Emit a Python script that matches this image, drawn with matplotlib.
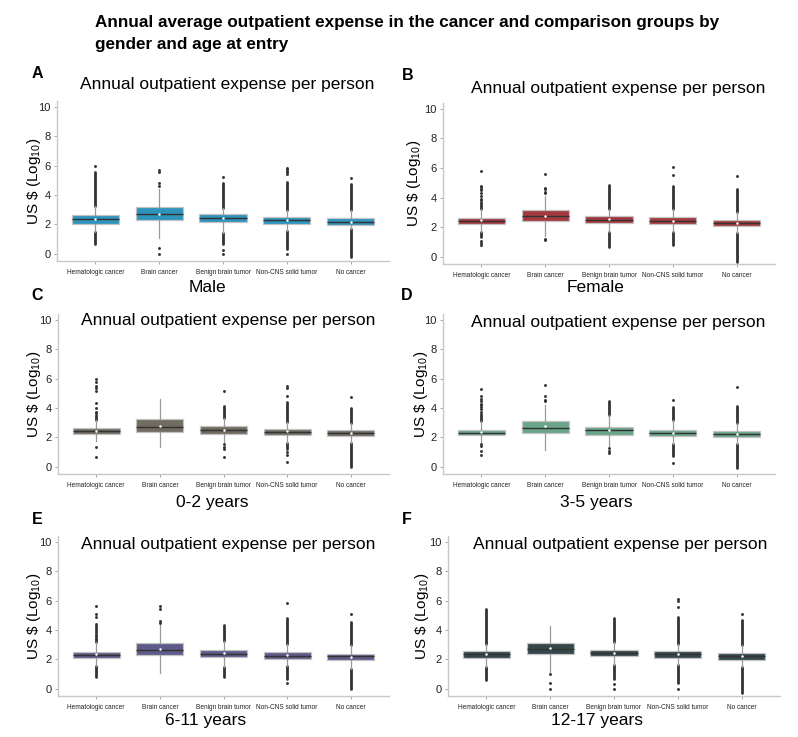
import matplotlib
matplotlib.use("Agg")
import matplotlib.pyplot as plt

plt.rcParams['font.family'] = ['Liberation Sans', 'DejaVu Sans']
plt.rcParams['mathtext.fontset'] = 'custom'
plt.rcParams['mathtext.rm'] = 'Liberation Sans'

# ---- data (log10 US $) ----
categories = ["Hematologic cancer", "Brain cancer", "Benign brain tumor",
              "Non-CNS solid tumor", "No cancer"]
panel_letters = ["A", "B", "C", "D", "E", "F"]
panel_groups = ["Male", "Female", "0-2 years", "3-5 years", "6-11 years", "12-17 years"]
panel_colors = ["#2e93bd", "#a33a40", "#716c62", "#6aa58a", "#5e5b8a", "#35474b"]

q1 = [[2.05, 2.28, 2.14, 2.05, 1.94],
      [2.19, 2.40, 2.26, 2.19, 2.08],
      [2.20, 2.34, 2.23, 2.16, 2.09],
      [2.13, 2.31, 2.15, 2.08, 2.04],
      [2.09, 2.27, 2.14, 2.02, 1.93],
      [2.11, 2.34, 2.20, 2.11, 1.98]]
medians = [[2.33, 2.71, 2.42, 2.30, 2.19],
           [2.42, 2.74, 2.51, 2.42, 2.28],
           [2.43, 2.70, 2.50, 2.39, 2.32],
           [2.31, 2.65, 2.47, 2.26, 2.24],
           [2.32, 2.66, 2.39, 2.25, 2.20],
           [2.34, 2.73, 2.43, 2.34, 2.23]]
q3 = [[2.60, 3.18, 2.71, 2.53, 2.44],
      [2.62, 3.17, 2.76, 2.65, 2.49],
      [2.61, 3.25, 2.80, 2.55, 2.50],
      [2.53, 3.14, 2.71, 2.47, 2.40],
      [2.50, 3.11, 2.61, 2.50, 2.39],
      [2.57, 3.14, 2.66, 2.57, 2.43]]
means = [[2.36, 2.73, 2.44, 2.31, 2.17],
         [2.45, 2.78, 2.52, 2.44, 2.30],
         [2.45, 2.77, 2.53, 2.41, 2.30],
         [2.33, 2.74, 2.49, 2.28, 2.22],
         [2.34, 2.73, 2.41, 2.27, 2.18],
         [2.36, 2.77, 2.45, 2.36, 2.25]]
whisker_lo = [[1.47, 1.08, 1.42, 1.53, 1.65],
              [1.67, 1.40, 1.65, 1.67, 1.58],
              [1.75, 1.32, 1.70, 1.60, 1.60],
              [1.65, 1.11, 1.40, 1.52, 1.56],
              [1.52, 1.07, 1.48, 1.52, 1.36],
              [1.48, 1.14, 1.59, 1.59, 1.48]]
whisker_hi = [[3.25, 4.40, 3.10, 3.00, 3.00],
              [3.20, 4.10, 3.20, 3.20, 3.00],
              [3.20, 4.59, 3.30, 3.07, 2.95],
              [3.10, 4.23, 3.55, 3.21, 2.99],
              [3.18, 4.32, 3.25, 3.07, 2.95],
              [3.07, 4.25, 3.18, 3.07, 2.95]]
# dense runs of outliers (low, high); None where the points are sparse
upper_runs = [[(3.25, 5.55), None, (3.10, 4.80), (3.00, 4.90), (3.00, 4.75)],
              [(3.20, 3.70), None, (3.20, 4.84), (3.20, 4.75), (3.00, 4.57)],
              [(3.20, 3.50), None, (3.30, 4.14), (3.07, 4.43), (2.95, 4.02)],
              [(3.10, 3.60), None, (3.55, 4.46), (3.21, 4.05), (2.99, 4.16)],
              [(3.18, 3.75), None, (3.25, 4.32), (3.07, 4.84), (2.95, 4.55)],
              [(3.07, 5.45), None, (3.18, 4.84), (3.07, 4.89), (2.95, 4.70)]]
lower_runs = [[(0.63, 1.47), None, (0.63, 1.42), (0.30, 1.53), (-0.20, 1.65)],
              [(1.36, 1.67), None, (0.65, 1.65), (0.80, 1.67), (-0.36, 1.58)],
              [None, None, None, (1.18, 1.60), (0.00, 1.60)],
              [None, None, None, (0.72, 1.52), (-0.07, 1.56)],
              [(0.80, 1.52), None, (0.80, 1.48), (0.68, 1.52), (-0.05, 1.36)],
              [(0.57, 1.48), None, (0.68, 1.59), (0.39, 1.59), (-0.30, 1.48)]]
# single outlying points
fliers = [[[6.0], [4.6, 4.8, 5.55, 5.67, 0.41, 0.0], [5.2, 0.25, 0.0],
           [5.45, 5.55, 5.65, 5.75, 5.85, 0.0], [5.15]],
          [[5.81, 4.8, 4.7, 4.6, 4.5, 4.3, 4.1, 3.9, 3.8, 1.06, 0.9, 0.77],
           [4.3, 4.4, 4.55, 4.65, 5.59, 1.18, 1.1], [], [6.1, 5.52], [5.43]],
          [[5.98, 5.8, 5.5, 5.34, 5.18, 4.32, 3.98, 3.75, 3.64, 1.36, 0.68],
           [], [5.18, 1.55, 1.36, 1.18, 0.64], [5.5, 5.34, 4.82, 1.02, 0.8, 0.34], [4.73]],
          [[5.32, 4.8, 4.6, 4.45, 4.3, 4.2, 4.05, 3.9, 3.75, 1.52, 1.4, 1.06, 0.77],
           [5.59, 4.84, 4.57, 4.46], [1.29, 1.06, 0.9], [4.57, 0.27], [5.43]],
          [[5.61, 5.07, 4.89, 4.43, 4.3, 4.15, 4.0, 3.86],
           [5.61, 5.45, 4.61, 4.48], [], [5.84, 0.39], [5.11]],
          [[], [1.02, 0.39, -0.05], [0.3, -0.05], [6.14, 5.98, 5.57, -0.05], [5.11]]]

# ---- layout (pixels of the 798x737 figure) ----
W, H = 798, 737
axes_px = [(57, 101, 389, 261), (443, 103, 775, 264),
           (58, 314, 389, 474), (443, 314, 775, 474),
           (58, 536, 389, 696), (448, 536, 780, 696)]
title_px = [(227, 85), (618, 88), (228, 321), (618, 323), (228, 545), (620, 545)]
xlabel_px = [(207, 288), (596, 288), (212, 502), (596, 502), (206, 721), (597, 721)]
letter_px = [(37, 74), (408, 75), (37, 296), (407, 296), (37, 520), (407, 520)]
ylabel_edge_px = [43, 423, 43, 430, 43, 431]

fig = plt.figure(figsize=(W / 100, H / 100), dpi=100)
fig.text(95 / W, 1 - 15 / H,
         "Annual average outpatient expense in the cancer and comparison groups by\n"
         "gender and age at entry",
         fontsize=12.3, fontweight="bold", ha="left", va="top", linespacing=1.6)

dark = "#333333"
for p in range(6):
    l, t, r, b = axes_px[p]
    ax = fig.add_axes([l / W, 1 - b / H, (r - l) / W, (b - t) / H])
    stats = []
    for i, cat in enumerate(categories):
        stats.append(dict(label=cat, q1=q1[p][i], med=medians[p][i], q3=q3[p][i],
                          mean=means[p][i], whislo=whisker_lo[p][i],
                          whishi=whisker_hi[p][i], fliers=[]))
    pos = list(range(len(categories)))
    ax.bxp(stats, positions=pos, widths=0.74, patch_artist=True,
           showmeans=True, showcaps=False, showfliers=False,
           boxprops=dict(facecolor=panel_colors[p], edgecolor="#c4c4c4", linewidth=0.9),
           medianprops=dict(color=dark, linewidth=1.0),
           whiskerprops=dict(color="#9a9a9a", linewidth=0.9),
           meanprops=dict(marker="o", markersize=1.8, markerfacecolor="white",
                          markeredgecolor="none"))
    for i in pos:
        for run in (upper_runs[p][i], lower_runs[p][i]):
            if run is not None:
                ax.vlines(i, run[0], run[1], colors=dark, linewidth=2.0,
                          capstyle="round", zorder=1.5)
        if fliers[p][i]:
            ax.plot([i] * len(fliers[p][i]), fliers[p][i], "o", ms=2.1,
                    color=dark, mec="none", zorder=1.5)

    ax.set_xlim(-0.6, 4.6)
    ax.set_ylim(-0.5, 10.4)
    ax.set_yticks([0, 2, 4, 6, 8, 10])
    ax.set_xticks(pos)
    ax.set_xticklabels(categories, fontsize=4.7)
    ax.tick_params(axis="y", labelsize=8, length=2.5, width=0.6, color="#999999",
                   pad=2, labelcolor="#222222")
    ax.tick_params(axis="x", length=2.5, width=0.6, color="#999999", pad=3,
                   labelcolor="#222222")
    for s in ("top", "right"):
        ax.spines[s].set_visible(False)
    for s in ("left", "bottom"):
        ax.spines[s].set_color("#c8c8c8")
        ax.spines[s].set_linewidth(1.0)
    ax.set_ylabel(r"US \$ (Log$_{\mathrm{10}}$)", fontsize=11)
    ax.yaxis.set_label_coords((ylabel_edge_px[p] - l) / (r - l), 0.5)

    tx, ty = title_px[p]
    fig.text(tx / W, 1 - ty / H, "Annual outpatient expense per person",
             fontsize=12.5, ha="center", va="center")
    xx, xy = xlabel_px[p]
    fig.text(xx / W, 1 - xy / H, panel_groups[p], fontsize=12.5,
             ha="center", va="center")
    lx, ly = letter_px[p]
    fig.text(lx / W, 1 - ly / H, panel_letters[p], fontsize=11.5,
             fontweight="bold", ha="center", va="center")

fig.savefig("out.png", dpi=100)
